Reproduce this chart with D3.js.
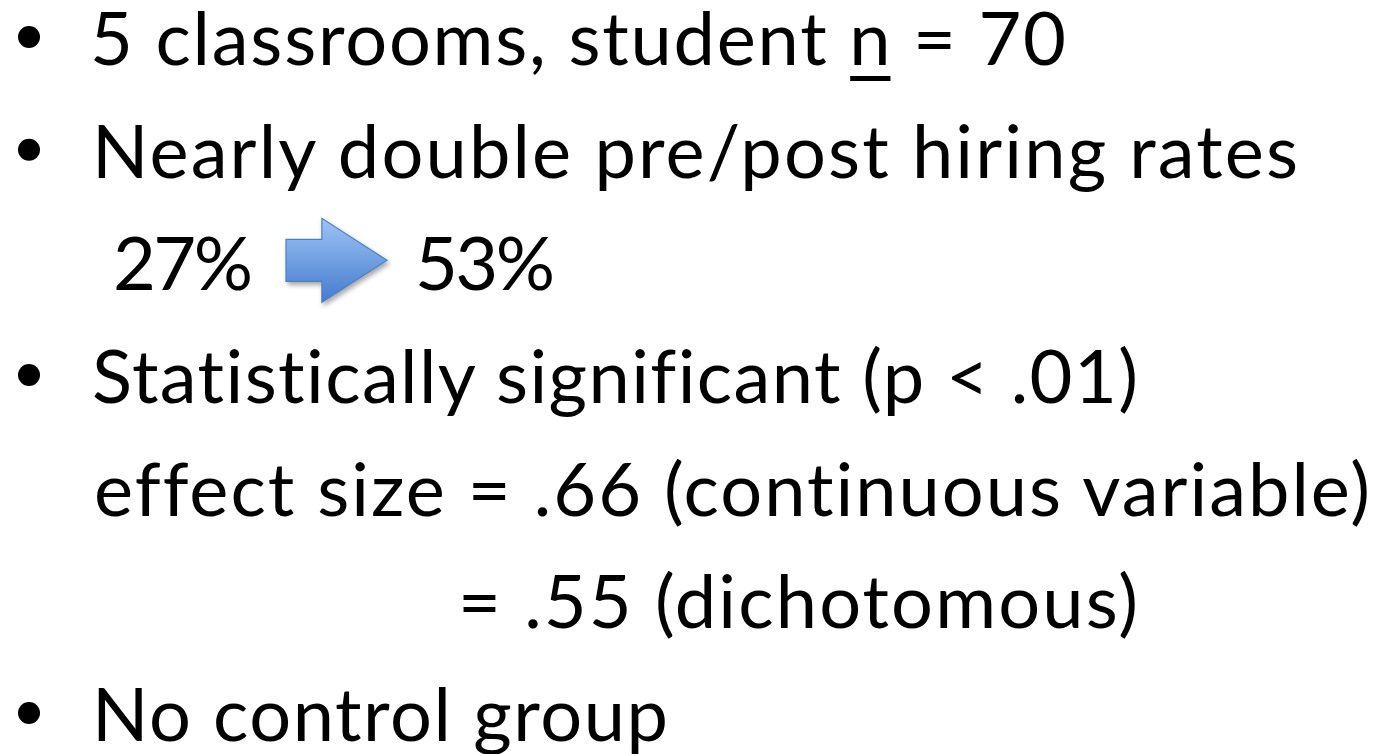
<!DOCTYPE html>
<html>
<head>
<meta charset="utf-8">
<script src="https://cdn.jsdelivr.net/npm/d3@7"></script>
<style>
  html, body { margin: 0; padding: 0; background: #fff; }
  svg { display: block; }
  text { font-variant-ligatures: none; font-feature-settings: "liga" 0, "clig" 0; }
</style>
</head>
<body>
<div id="slide"></div>
<script>
// slide content
const lines = [
  "5 classrooms, student n = 70",
  "Nearly double pre/post hiring rates",
  "27%",
  "Statistically significant (p < .01)",
  "effect size = .66 (continuous variable)",
  "= .55 (dichotomous)",
  "No control group"
];
const bulleted = [true, true, false, true, false, false, true];
const rateBefore = "27%";
const rateAfter = "53%";
const underlined = "n";   // the sample size letter is underlined

// layout (pixels)
const lineStart = [90, 92, 113, 92, 94, 458, 92];
const lineEnd   = [1066, 1298, 253, 1138, 1370, 1138, 668];
const afterStart = 415, afterEnd = 555;

const W = 1378, H = 754;
const fontSize = 74;

const svg = d3.select("#slide").append("svg")
    .attr("width", W)
    .attr("height", H);

const defs = svg.append("defs");
const grad = defs.append("linearGradient")
    .attr("id", "arrowFill")
    .attr("x1", 0).attr("y1", 0).attr("x2", 0).attr("y2", 1);
grad.append("stop").attr("offset", "0%").attr("stop-color", "#9ec3f6");
grad.append("stop").attr("offset", "100%").attr("stop-color", "#447cce");

const shadow = defs.append("filter").attr("id", "shadow")
    .attr("x", "-20%").attr("y", "-20%").attr("width", "150%").attr("height", "150%");
shadow.append("feDropShadow")
    .attr("dx", 2).attr("dy", 3).attr("stdDeviation", 2.5)
    .attr("flood-color", "#000").attr("flood-opacity", 0.35);

const y = d3.scaleLinear().domain([0, lines.length - 1]).range([65, 741]);

const g = svg.append("g")
    .attr("font-family", "Lato, 'Open Sans', sans-serif")
    .attr("font-size", fontSize)
    .attr("fill", "#000");

// bullets
g.selectAll("circle.bullet")
  .data(lines.map((t, i) => i).filter(i => bulleted[i]))
  .join("circle")
    .attr("class", "bullet")
    .attr("cx", 29)
    .attr("cy", i => y(i) - 28)
    .attr("r", 11);

// text lines
const texts = g.selectAll("text.line")
  .data(lines)
  .join("text")
    .attr("class", "line")
    .attr("x", (d, i) => lineStart[i])
    .attr("y", (d, i) => y(i))
    .attr("textLength", (d, i) => lineEnd[i] - lineStart[i])
    .attr("lengthAdjust", "spacing")
    .text(d => d);

// after-rate on the arrow line
g.append("text")
    .attr("x", afterStart)
    .attr("y", y(2))
    .attr("textLength", afterEnd - afterStart)
    .attr("lengthAdjust", "spacing")
    .text(rateAfter);

// underline under "n"
const first = texts.filter((d, i) => i === 0).node();
const ci = lines[0].indexOf(" " + underlined + " ") + 1;
const p0 = first.getStartPositionOfChar(ci);
const p1 = first.getEndPositionOfChar(ci);
g.append("rect")
    .attr("x", p0.x + 1)
    .attr("y", y(0) + 11)
    .attr("width", p1.x - p0.x - 1)
    .attr("height", 5);

// block arrow between the two rates
const ax0 = lineEnd[2] + 33, ax1 = afterStart - 28;
const cy = y(2) - 30;
const headBase = ax0 + (ax1 - ax0) * 0.355;
const shaftHalf = 21, headHalf = 42;
const arrow = d3.path();
arrow.moveTo(ax0, cy - shaftHalf);
arrow.lineTo(headBase, cy - shaftHalf);
arrow.lineTo(headBase, cy - headHalf);
arrow.lineTo(ax1, cy);
arrow.lineTo(headBase, cy + headHalf);
arrow.lineTo(headBase, cy + shaftHalf);
arrow.lineTo(ax0, cy + shaftHalf);
arrow.closePath();

svg.append("path")
    .attr("d", arrow.toString())
    .attr("fill", "url(#arrowFill)")
    .attr("stroke", "#4f7fc0")
    .attr("stroke-width", 1.2)
    .attr("filter", "url(#shadow)");
</script>
</body>
</html>
